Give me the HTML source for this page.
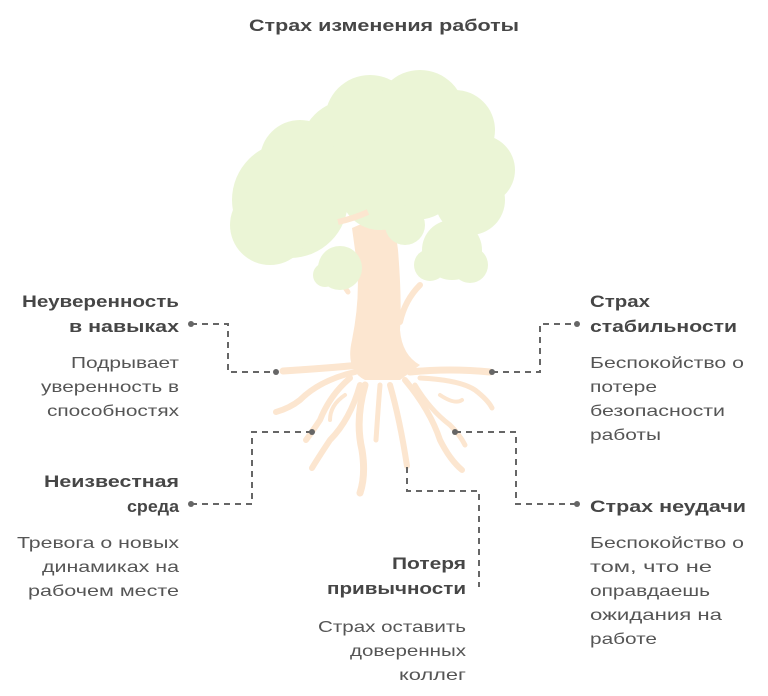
<!DOCTYPE html>
<html><head><meta charset="utf-8"><style>
html,body{margin:0;padding:0;background:#fff;}
svg{display:block;}
.b{font-family:"Liberation Sans",sans-serif;font-weight:bold;font-size:17px;fill:#464646;}
.n{font-family:"Liberation Sans",sans-serif;font-size:16px;fill:#555;}
</style></head><body>
<svg width="768" height="696" viewBox="0 0 768 696" xmlns="http://www.w3.org/2000/svg">
<g fill="#fce6d0">
<path d="M352 228 L375 218 L382 205 L392 205 L398 250 Q402 300 400 330 Q402 355 420 365 L400 380 L365 380 Q345 370 352 340 Q362 290 355 250 Z"/>
</g>
<g fill="none" stroke="#fce6d0" stroke-linecap="round">
<path d="M330 268 Q340 280 348 292" stroke-width="5"/>
<path d="M420 285 Q405 300 400 322" stroke-width="6"/>
<path d="M360 365 Q330 368 283 371" stroke-width="7"/>
<path d="M355 372 Q320 380 300 400 Q290 408 276 412" stroke-width="6"/>
<path d="M350 378 Q330 395 320 420 Q312 432 306 440" stroke-width="6"/>
<path d="M360 385 Q350 420 330 440 Q318 458 312 468" stroke-width="6"/>
<path d="M365 385 Q355 420 362 450 Q366 475 360 493" stroke-width="7"/>
<path d="M380 385 Q378 410 376 440" stroke-width="5"/>
<path d="M390 385 Q400 420 407 466" stroke-width="6"/>
<path d="M405 380 Q430 410 440 440 Q450 460 462 470" stroke-width="6"/>
<path d="M410 372 Q450 368 490 372" stroke-width="7"/>
<path d="M420 378 Q460 380 475 390 Q488 400 492 408" stroke-width="5"/>
<path d="M415 385 Q430 410 450 425 Q460 435 465 445" stroke-width="5"/>
<path d="M345 395 Q330 405 330 420" stroke-width="4"/>
<path d="M440 395 Q455 405 462 400" stroke-width="4"/>
</g>
<g fill="#ebf5d6">
<circle cx="290" cy="200" r="58"/>
<circle cx="270" cy="225" r="40"/>
<circle cx="300" cy="160" r="40"/>
<circle cx="350" cy="150" r="50"/>
<circle cx="370" cy="120" r="45"/>
<circle cx="420" cy="115" r="45"/>
<circle cx="455" cy="130" r="40"/>
<circle cx="480" cy="170" r="35"/>
<circle cx="470" cy="200" r="35"/>
<circle cx="415" cy="170" r="50"/>
<circle cx="380" cy="190" r="40"/>
<circle cx="405" cy="225" r="20"/>
<circle cx="452" cy="250" r="30"/>
<circle cx="430" cy="265" r="16"/>
<circle cx="470" cy="265" r="18"/>
<circle cx="340" cy="268" r="22"/>
<circle cx="325" cy="275" r="12"/>
</g>
<path d="M338 222 Q355 218 368 212" fill="none" stroke="#fce6d0" stroke-width="6"/>
<g fill="none" stroke="#666" stroke-width="2" stroke-dasharray="6,5">
<path d="M191 324 H228 V372 H276"/>
<path d="M492 372 H540 V324 H577"/>
<path d="M191 504 H252 V432 H312"/>
<path d="M455 432 H516 V504 H577"/>
<path d="M407 467 V491 H479 V587"/>
</g>
<g fill="#666">
<circle cx="191" cy="324" r="3"/><circle cx="276" cy="372" r="3"/>
<circle cx="492" cy="372" r="3"/><circle cx="577" cy="324" r="3"/>
<circle cx="191" cy="504" r="3"/><circle cx="312" cy="432" r="3"/>
<circle cx="455" cy="432" r="3"/><circle cx="577" cy="504" r="3"/>
</g>
<text class="b" x="249" y="31" textLength="270" lengthAdjust="spacingAndGlyphs">Страх изменения работы</text>
<g text-anchor="end">
<text class="b" x="179" y="307" textLength="157" lengthAdjust="spacingAndGlyphs">Неуверенность</text>
<text class="b" x="179" y="332" textLength="110" lengthAdjust="spacingAndGlyphs">в навыках</text>
<text class="n" x="179" y="368" textLength="108" lengthAdjust="spacingAndGlyphs">Подрывает</text>
<text class="n" x="179" y="392" textLength="138" lengthAdjust="spacingAndGlyphs">уверенность в</text>
<text class="n" x="179" y="416" textLength="132" lengthAdjust="spacingAndGlyphs">способностях</text>
<text class="b" x="179" y="487" textLength="135" lengthAdjust="spacingAndGlyphs">Неизвестная</text>
<text class="b" x="179" y="512" textLength="52" lengthAdjust="spacingAndGlyphs">среда</text>
<text class="n" x="179" y="548" textLength="162" lengthAdjust="spacingAndGlyphs">Тревога о новых</text>
<text class="n" x="179" y="572" textLength="137" lengthAdjust="spacingAndGlyphs">динамиках на</text>
<text class="n" x="179" y="596" textLength="151" lengthAdjust="spacingAndGlyphs">рабочем месте</text>
<text class="b" x="466" y="569" textLength="74" lengthAdjust="spacingAndGlyphs">Потеря</text>
<text class="b" x="466" y="594" textLength="139" lengthAdjust="spacingAndGlyphs">привычности</text>
<text class="n" x="466" y="632" textLength="148" lengthAdjust="spacingAndGlyphs">Страх оставить</text>
<text class="n" x="466" y="656" textLength="116" lengthAdjust="spacingAndGlyphs">доверенных</text>
<text class="n" x="466" y="680" textLength="67" lengthAdjust="spacingAndGlyphs">коллег</text>
</g>
<text class="b" x="590" y="307" textLength="60" lengthAdjust="spacingAndGlyphs">Страх</text>
<text class="b" x="590" y="332" textLength="147" lengthAdjust="spacingAndGlyphs">стабильности</text>
<text class="n" x="590" y="368" textLength="154" lengthAdjust="spacingAndGlyphs">Беспокойство о</text>
<text class="n" x="590" y="392" textLength="67" lengthAdjust="spacingAndGlyphs">потере</text>
<text class="n" x="590" y="416" textLength="135" lengthAdjust="spacingAndGlyphs">безопасности</text>
<text class="n" x="590" y="440" textLength="71" lengthAdjust="spacingAndGlyphs">работы</text>
<text class="b" x="590" y="512" textLength="156" lengthAdjust="spacingAndGlyphs">Страх неудачи</text>
<text class="n" x="590" y="548" textLength="154" lengthAdjust="spacingAndGlyphs">Беспокойство о</text>
<text class="n" x="590" y="572" textLength="122" lengthAdjust="spacingAndGlyphs">том, что не</text>
<text class="n" x="590" y="596" textLength="120" lengthAdjust="spacingAndGlyphs">оправдаешь</text>
<text class="n" x="590" y="620" textLength="132" lengthAdjust="spacingAndGlyphs">ожидания на</text>
<text class="n" x="590" y="644" textLength="67" lengthAdjust="spacingAndGlyphs">работе</text>
</svg>
</body></html>
